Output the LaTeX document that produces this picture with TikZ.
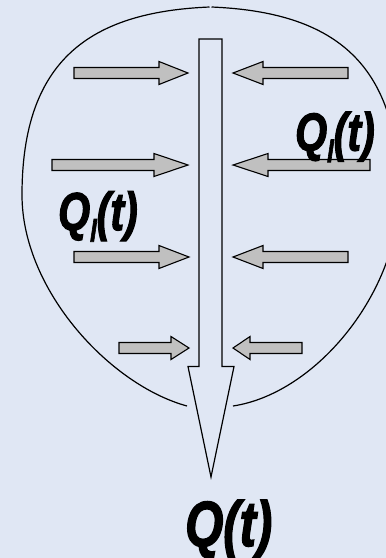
\documentclass[tikz,border=0pt]{standalone}
\usepackage{fontspec}
\setmainfont{Liberation Sans}
\newfontfamily\labfont[ItalicFont={Liberation Sans Bold Italic},ItalicFeatures={FakeBold=2.5}]{Liberation Sans}
\definecolor{bg}{RGB}{224,231,244}
\definecolor{arrgray}{RGB}{192,192,192}
\newcommand\myarrow[4]{% y, tail x, head base x, tip x
  \filldraw[smallarrow] (#2,#1-5.5) -- (#3,#1-5.5) -- (#3,#1-11.5) -- (#4,#1)
    -- (#3,#1+11.5) -- (#3,#1+5.5) -- (#2,#1+5.5) -- cycle;}
\newcommand\qlabel{\scalebox{1}[1.3]{\fontsize{41}{41}\labfont\itshape Q\raisebox{-9pt}{\fontsize{24}{24}\selectfont l}(t)}}
\begin{document}
\begin{tikzpicture}[x=1pt,y=-1pt,
  smallarrow/.style={fill=arrgray,draw=black,line width=1.1pt,line join=miter},
  outline/.style={draw=black,line width=1.2pt},
  lab/.style={anchor=base west,inner sep=0pt,text=black}]
\useasboundingbox (0,0) rectangle (386,558);
\fill[bg] (0,0) rectangle (386,558);
\begin{scope}
\clip (0,0) rectangle (386,558);
% balloon
\coordinate (top) at (210.5,7);
\coordinate (lside) at (22,195);
\coordinate (rside) at (399,195);
\coordinate (lend) at (187,406);
\coordinate (rend) at (233,406);
\draw[outline] ([xshift=-1pt]top) .. controls (90,12) and (22,60) .. (lside)
  .. controls (22,290) and (110,385) .. (lend);
\draw[outline] ([xshift=1pt]top) .. controls (331,12) and (399,60) .. (rside)
  .. controls (399,290) and (318,393) .. (rend);
\end{scope}
% main arrow
\draw[outline,line join=miter] (199,39) -- (222,39) -- (222,366.5) -- (234,366.5) -- (211,477) -- (188,366.5) -- (199,366.5) -- cycle;
% inflow arrows
\myarrow{73}{74}{159}{188}
\myarrow{73}{348}{263}{233}
\myarrow{165}{52}{154}{188}
\myarrow{165}{370}{268}{233}
\myarrow{257}{74}{159}{189}
\myarrow{257}{348}{263}{233}
\myarrow{348}{119}{171}{189}
\myarrow{348}{302}{250}{233}
% labels
\node[lab] (qlr) at (295,150.5) {\qlabel};
\node[lab] (qll) at (58,230) {\qlabel};
\node[lab] (qt) at (185,546) {\scalebox{1}[1.3]{\fontsize{49}{49}\labfont\itshape Q(t)}};
\end{tikzpicture}
\end{document}
